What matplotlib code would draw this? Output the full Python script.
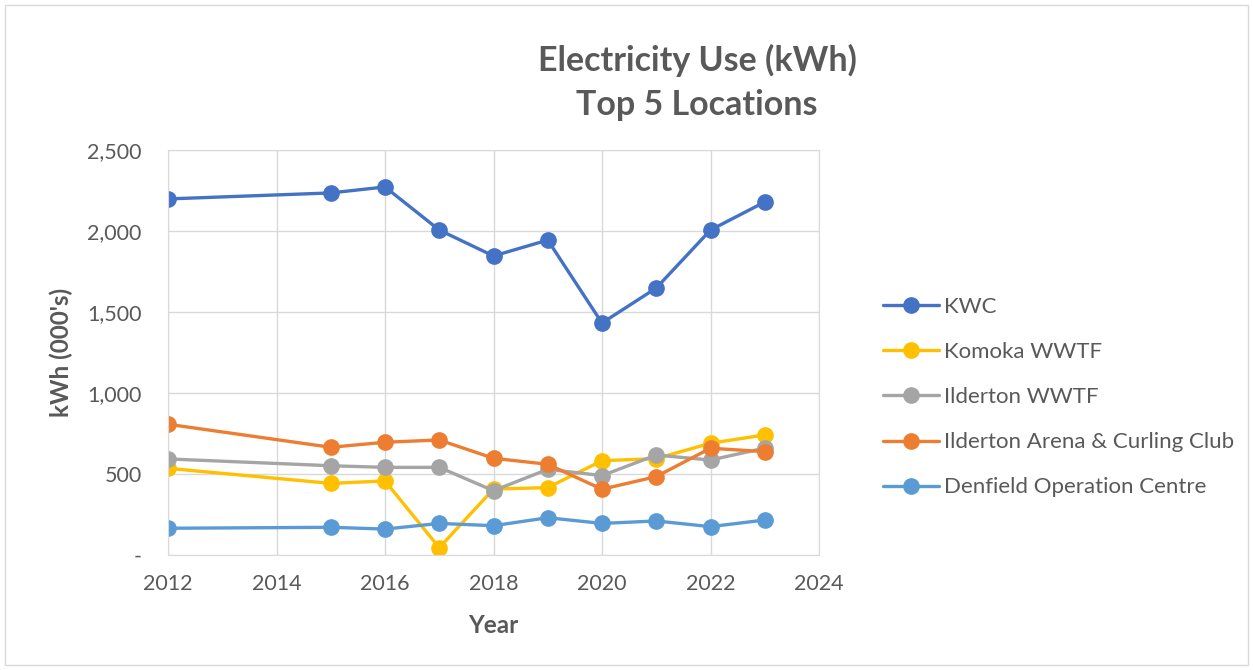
import matplotlib
matplotlib.use("Agg")
import matplotlib.pyplot as plt
from matplotlib.patches import Rectangle
from matplotlib.ticker import FuncFormatter, MultipleLocator

plt.rcParams['font.family'] = ['Lato', 'DejaVu Sans']

years = [2012, 2015, 2016, 2017, 2018, 2019, 2020, 2021, 2022, 2023]
kwc = [2198, 2235, 2272, 2006, 1846, 1944, 1432, 1648, 2006, 2179]
komoka = [535, 442, 457, 45, 407, 416, 582, 595, 690, 741]
ilderton_wwtf = [593, 551, 541, 541, 397, 529, 490, 617, 586, 660]
ilderton_arena = [807, 665, 696, 710, 597, 560, 406, 484, 659, 638]
denfield = [165, 171, 160, 195, 181, 230, 195, 210, 175, 216]

series_names = ["KWC", "Komoka WWTF", "Ilderton WWTF",
                "Ilderton Arena & Curling Club", "Denfield Operation Centre"]
series_values = [kwc, komoka, ilderton_wwtf, ilderton_arena, denfield]
colors = ["#4472C4", "#FFC000", "#A5A5A5", "#ED7D31", "#5B9BD5"]

W, H = 1253, 670
fig = plt.figure(figsize=(W / 100, H / 100), dpi=100)
ax = fig.add_axes([168 / W, 1 - 555 / H, (819 - 168) / W, (555 - 150) / H])

for name, vals, c in zip(series_names, series_values, colors):
    ax.plot(years, vals, color=c, lw=2.4, marker='o', ms=11, label=name,
            solid_capstyle='round')

ax.set_xlim(2012, 2024)
ax.set_ylim(0, 2500)
ax.xaxis.set_major_locator(MultipleLocator(2))
ax.yaxis.set_major_locator(MultipleLocator(500))
ax.yaxis.set_major_formatter(FuncFormatter(lambda v, p: '-' if v == 0 else f"{int(v):,}"))
ax.grid(True, color="#D9D9D9", lw=1.0)
ax.set_axisbelow(True)
for s in ax.spines.values():
    s.set_color("#D9D9D9")
ax.tick_params(length=0, labelsize=15.5, colors="#595959")
ax.tick_params(axis='y', pad=19)
ax.tick_params(axis='x', pad=14)

ax.set_xlabel("Year", fontsize=17.5, fontweight='bold', color="#595959", labelpad=14)
ax.set_ylabel("kWh (000's)", fontsize=17.5, fontweight='bold', color="#595959", labelpad=10)

fig.text(697 / W, 1 - 60 / H, "Electricity Use (kWh)", ha='center', va='center',
         fontsize=24.5, fontweight='bold', color="#595959")
fig.text(697 / W, 1 - 105 / H, "Top 5 Locations", ha='center', va='center',
         fontsize=24.5, fontweight='bold', color="#595959")

leg = fig.legend(loc='upper left', bbox_to_anchor=(883 / W, 1 - 297 / H),
                 frameon=False, fontsize=16, labelcolor="#595959",
                 handlelength=2.5, labelspacing=1.13, handletextpad=0.25,
                 borderpad=0, borderaxespad=0)

fig.patches.append(Rectangle((5 / W, 5 / H), (W - 10) / W, (H - 10) / H,
                             transform=fig.transFigure, fill=False,
                             edgecolor="#D9D9D9", lw=1))

fig.savefig("out.png", dpi=100)
